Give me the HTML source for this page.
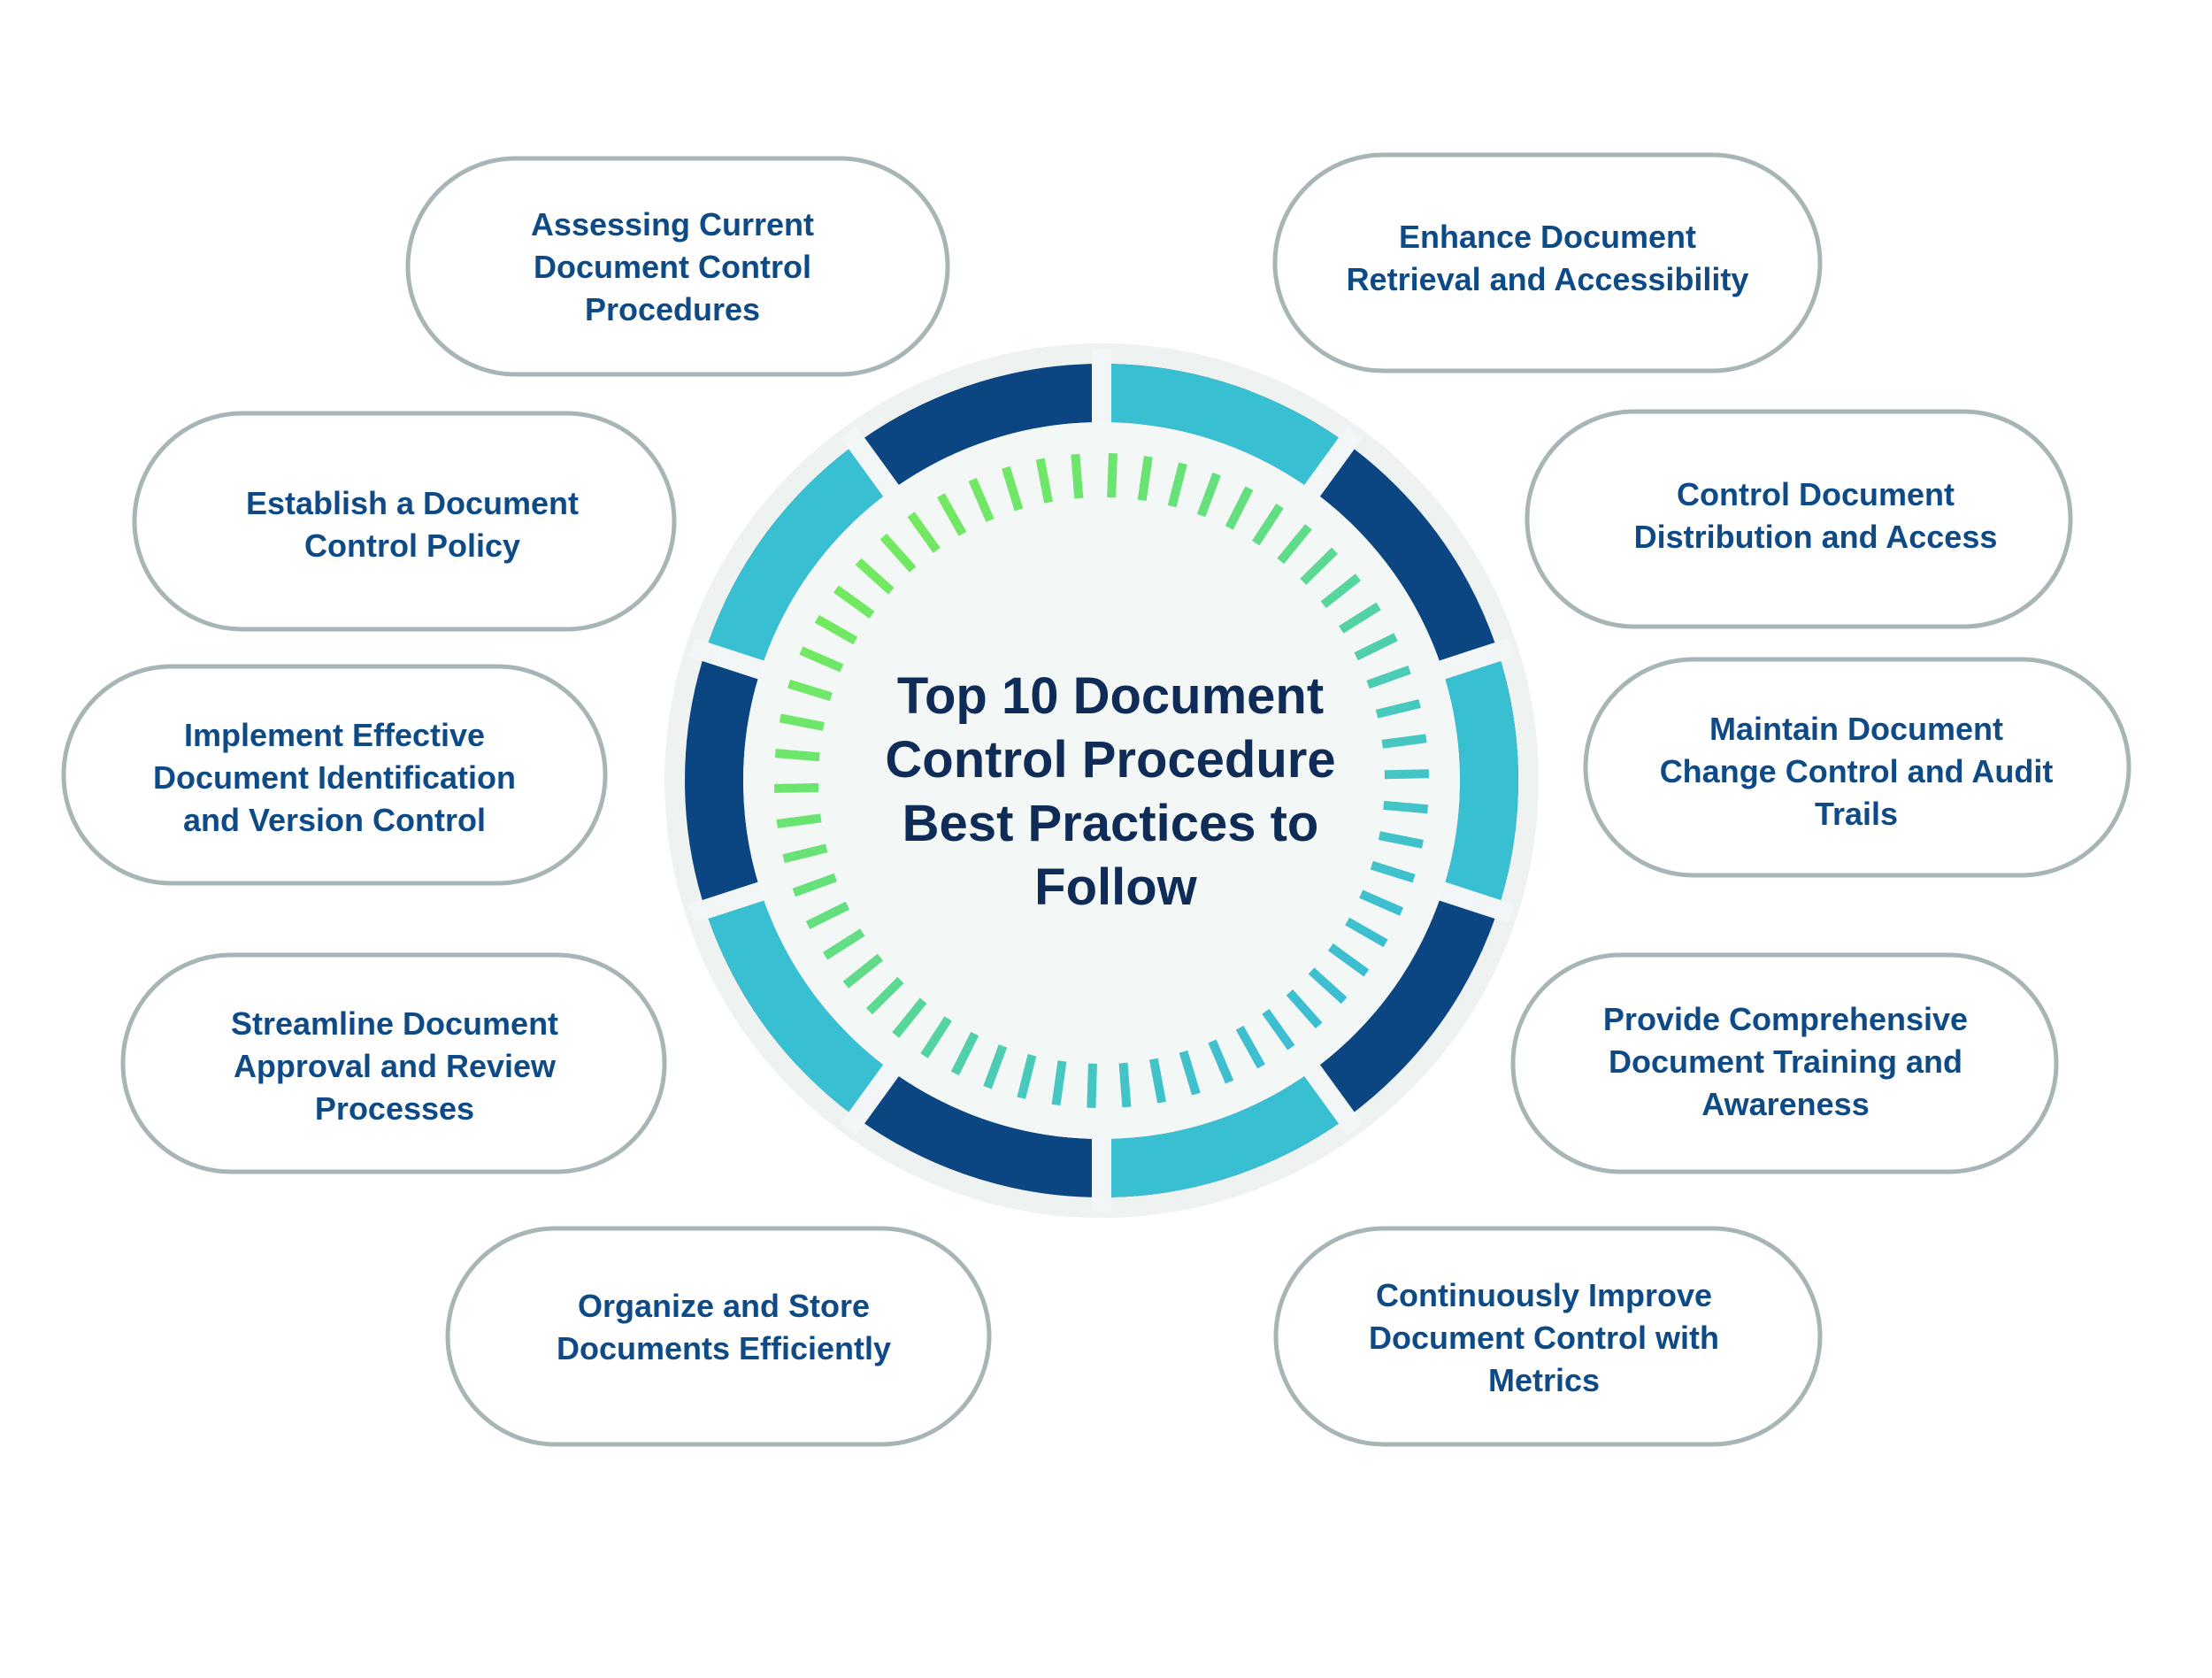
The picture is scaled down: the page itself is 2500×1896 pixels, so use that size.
<!DOCTYPE html>
<html><head><meta charset="utf-8"><style>
html,body{margin:0;padding:0;background:#fff;}
svg{display:block}
.b{fill:#fff;stroke:#a7b5b7;stroke-width:5}
.t{font-family:"Liberation Sans",sans-serif;font-weight:bold;font-size:36px;fill:#0d4a86;text-anchor:middle}
.h{font-family:"Liberation Sans",sans-serif;font-weight:bold;font-size:58px;fill:#0e2c57;text-anchor:middle}
</style></head><body>
<svg width="2500" height="1896" viewBox="0 0 2500 1896" xmlns="http://www.w3.org/2000/svg">
<defs>
<linearGradient id="g" gradientUnits="userSpaceOnUse" x1="980" y1="620" x2="1520" y2="1150">
<stop offset="0" stop-color="#74ea5e"/><stop offset="0.45" stop-color="#5fdc8a"/><stop offset="0.75" stop-color="#46c8c0"/><stop offset="1" stop-color="#3bbcd6"/>
</linearGradient>
<mask id="m" maskUnits="userSpaceOnUse" x="0" y="0" width="2500" height="1896">
<g stroke="#fff" stroke-width="10">
<line x1="1245" y1="512" x2="1245" y2="562" transform="rotate(2 1245 882)"/>
<line x1="1245" y1="512" x2="1245" y2="562" transform="rotate(8.2 1245 882)"/>
<line x1="1245" y1="512" x2="1245" y2="562" transform="rotate(14.4 1245 882)"/>
<line x1="1245" y1="512" x2="1245" y2="562" transform="rotate(20.6 1245 882)"/>
<line x1="1245" y1="512" x2="1245" y2="562" transform="rotate(26.8 1245 882)"/>
<line x1="1245" y1="512" x2="1245" y2="562" transform="rotate(33 1245 882)"/>
<line x1="1245" y1="512" x2="1245" y2="562" transform="rotate(39.2 1245 882)"/>
<line x1="1245" y1="512" x2="1245" y2="562" transform="rotate(45.4 1245 882)"/>
<line x1="1245" y1="512" x2="1245" y2="562" transform="rotate(51.6 1245 882)"/>
<line x1="1245" y1="512" x2="1245" y2="562" transform="rotate(57.8 1245 882)"/>
<line x1="1245" y1="512" x2="1245" y2="562" transform="rotate(64 1245 882)"/>
<line x1="1245" y1="512" x2="1245" y2="562" transform="rotate(70.2 1245 882)"/>
<line x1="1245" y1="512" x2="1245" y2="562" transform="rotate(76.4 1245 882)"/>
<line x1="1245" y1="512" x2="1245" y2="562" transform="rotate(82.6 1245 882)"/>
<line x1="1245" y1="512" x2="1245" y2="562" transform="rotate(88.8 1245 882)"/>
<line x1="1245" y1="512" x2="1245" y2="562" transform="rotate(95 1245 882)"/>
<line x1="1245" y1="512" x2="1245" y2="562" transform="rotate(101.2 1245 882)"/>
<line x1="1245" y1="512" x2="1245" y2="562" transform="rotate(107.4 1245 882)"/>
<line x1="1245" y1="512" x2="1245" y2="562" transform="rotate(113.6 1245 882)"/>
<line x1="1245" y1="512" x2="1245" y2="562" transform="rotate(119.8 1245 882)"/>
<line x1="1245" y1="512" x2="1245" y2="562" transform="rotate(126 1245 882)"/>
<line x1="1245" y1="512" x2="1245" y2="562" transform="rotate(132.2 1245 882)"/>
<line x1="1245" y1="512" x2="1245" y2="562" transform="rotate(138.4 1245 882)"/>
<line x1="1245" y1="512" x2="1245" y2="562" transform="rotate(144.6 1245 882)"/>
<line x1="1245" y1="512" x2="1245" y2="562" transform="rotate(150.8 1245 882)"/>
<line x1="1245" y1="512" x2="1245" y2="562" transform="rotate(157 1245 882)"/>
<line x1="1245" y1="512" x2="1245" y2="562" transform="rotate(163.2 1245 882)"/>
<line x1="1245" y1="512" x2="1245" y2="562" transform="rotate(169.4 1245 882)"/>
<line x1="1245" y1="512" x2="1245" y2="562" transform="rotate(175.6 1245 882)"/>
<line x1="1245" y1="512" x2="1245" y2="562" transform="rotate(181.8 1245 882)"/>
<line x1="1245" y1="512" x2="1245" y2="562" transform="rotate(188 1245 882)"/>
<line x1="1245" y1="512" x2="1245" y2="562" transform="rotate(194.2 1245 882)"/>
<line x1="1245" y1="512" x2="1245" y2="562" transform="rotate(200.4 1245 882)"/>
<line x1="1245" y1="512" x2="1245" y2="562" transform="rotate(206.6 1245 882)"/>
<line x1="1245" y1="512" x2="1245" y2="562" transform="rotate(212.8 1245 882)"/>
<line x1="1245" y1="512" x2="1245" y2="562" transform="rotate(219 1245 882)"/>
<line x1="1245" y1="512" x2="1245" y2="562" transform="rotate(225.2 1245 882)"/>
<line x1="1245" y1="512" x2="1245" y2="562" transform="rotate(231.4 1245 882)"/>
<line x1="1245" y1="512" x2="1245" y2="562" transform="rotate(237.6 1245 882)"/>
<line x1="1245" y1="512" x2="1245" y2="562" transform="rotate(243.8 1245 882)"/>
<line x1="1245" y1="512" x2="1245" y2="562" transform="rotate(250 1245 882)"/>
<line x1="1245" y1="512" x2="1245" y2="562" transform="rotate(256.2 1245 882)"/>
<line x1="1245" y1="512" x2="1245" y2="562" transform="rotate(262.4 1245 882)"/>
<line x1="1245" y1="512" x2="1245" y2="562" transform="rotate(268.6 1245 882)"/>
<line x1="1245" y1="512" x2="1245" y2="562" transform="rotate(274.8 1245 882)"/>
<line x1="1245" y1="512" x2="1245" y2="562" transform="rotate(281 1245 882)"/>
<line x1="1245" y1="512" x2="1245" y2="562" transform="rotate(287.2 1245 882)"/>
<line x1="1245" y1="512" x2="1245" y2="562" transform="rotate(293.4 1245 882)"/>
<line x1="1245" y1="512" x2="1245" y2="562" transform="rotate(299.6 1245 882)"/>
<line x1="1245" y1="512" x2="1245" y2="562" transform="rotate(305.8 1245 882)"/>
<line x1="1245" y1="512" x2="1245" y2="562" transform="rotate(312 1245 882)"/>
<line x1="1245" y1="512" x2="1245" y2="562" transform="rotate(318.2 1245 882)"/>
<line x1="1245" y1="512" x2="1245" y2="562" transform="rotate(324.4 1245 882)"/>
<line x1="1245" y1="512" x2="1245" y2="562" transform="rotate(330.6 1245 882)"/>
<line x1="1245" y1="512" x2="1245" y2="562" transform="rotate(336.8 1245 882)"/>
<line x1="1245" y1="512" x2="1245" y2="562" transform="rotate(343 1245 882)"/>
<line x1="1245" y1="512" x2="1245" y2="562" transform="rotate(349.2 1245 882)"/>
<line x1="1245" y1="512" x2="1245" y2="562" transform="rotate(355.4 1245 882)"/>
</g>
</mask>
</defs>
<rect class="b" x="461" y="179" width="610" height="244" rx="122"/>
<rect class="b" x="152" y="467" width="610" height="244" rx="122"/>
<rect class="b" x="72" y="753" width="612" height="245" rx="122"/>
<rect class="b" x="139" y="1079" width="612" height="245" rx="122"/>
<rect class="b" x="506" y="1388" width="612" height="244" rx="122"/>
<rect class="b" x="1441" y="175" width="616" height="244" rx="122"/>
<rect class="b" x="1726" y="465" width="614" height="243" rx="121"/>
<rect class="b" x="1792" y="745" width="614" height="244" rx="122"/>
<rect class="b" x="1710" y="1079" width="614" height="245" rx="122"/>
<rect class="b" x="1442" y="1388" width="615" height="244" rx="122"/>

<text class="t"><tspan x="760" y="266">Assessing Current</tspan><tspan x="760" y="314">Document Control</tspan><tspan x="760" y="362">Procedures</tspan></text>
<text class="t"><tspan x="466" y="581">Establish a Document</tspan><tspan x="466" y="629">Control Policy</tspan></text>
<text class="t"><tspan x="378" y="843">Implement Effective</tspan><tspan x="378" y="891">Document Identification</tspan><tspan x="378" y="939">and Version Control</tspan></text>
<text class="t"><tspan x="446" y="1169">Streamline Document</tspan><tspan x="446" y="1217">Approval and Review</tspan><tspan x="446" y="1265">Processes</tspan></text>
<text class="t"><tspan x="818" y="1488">Organize and Store</tspan><tspan x="818" y="1536">Documents Efficiently</tspan></text>
<text class="t"><tspan x="1749" y="280">Enhance Document</tspan><tspan x="1749" y="328">Retrieval and Accessibility</tspan></text>
<text class="t"><tspan x="2052" y="571">Control Document</tspan><tspan x="2052" y="619">Distribution and Access</tspan></text>
<text class="t"><tspan x="2098" y="836">Maintain Document</tspan><tspan x="2098" y="884">Change Control and Audit</tspan><tspan x="2098" y="932">Trails</tspan></text>
<text class="t"><tspan x="2018" y="1164">Provide Comprehensive</tspan><tspan x="2018" y="1212">Document Training and</tspan><tspan x="2018" y="1260">Awareness</tspan></text>
<text class="t"><tspan x="1745" y="1476">Continuously Improve</tspan><tspan x="1745" y="1524">Document Control with</tspan><tspan x="1745" y="1572">Metrics</tspan></text>

<circle cx="1245" cy="882" r="494" fill="#eef2f1"/>
<circle cx="1245" cy="882" r="438" fill="none" stroke="#0b4683" stroke-width="66"/>
<circle cx="1245" cy="882" r="438" fill="none" stroke="#38bfd1" stroke-width="66" stroke-dasharray="275.2 275.2" transform="rotate(-90 1245 882)"/>
<g stroke="#f3f6f6" stroke-width="22">
<line x1="1245" y1="395" x2="1245" y2="1369"/>
<line x1="1245" y1="395" x2="1245" y2="1369" transform="rotate(36 1245 882)"/>
<line x1="1245" y1="395" x2="1245" y2="1369" transform="rotate(72 1245 882)"/>
<line x1="1245" y1="395" x2="1245" y2="1369" transform="rotate(108 1245 882)"/>
<line x1="1245" y1="395" x2="1245" y2="1369" transform="rotate(144 1245 882)"/>
</g>
<circle cx="1245" cy="882" r="405" fill="#f3f7f6"/>
<rect x="800" y="440" width="900" height="900" fill="url(#g)" mask="url(#m)"/>
<text class="h"><tspan x="1255" y="806">Top 10 Document</tspan><tspan x="1255" y="878">Control Procedure</tspan><tspan x="1255" y="950">Best Practices to</tspan><tspan x="1261" y="1022">Follow</tspan></text>
</svg>
</body></html>
